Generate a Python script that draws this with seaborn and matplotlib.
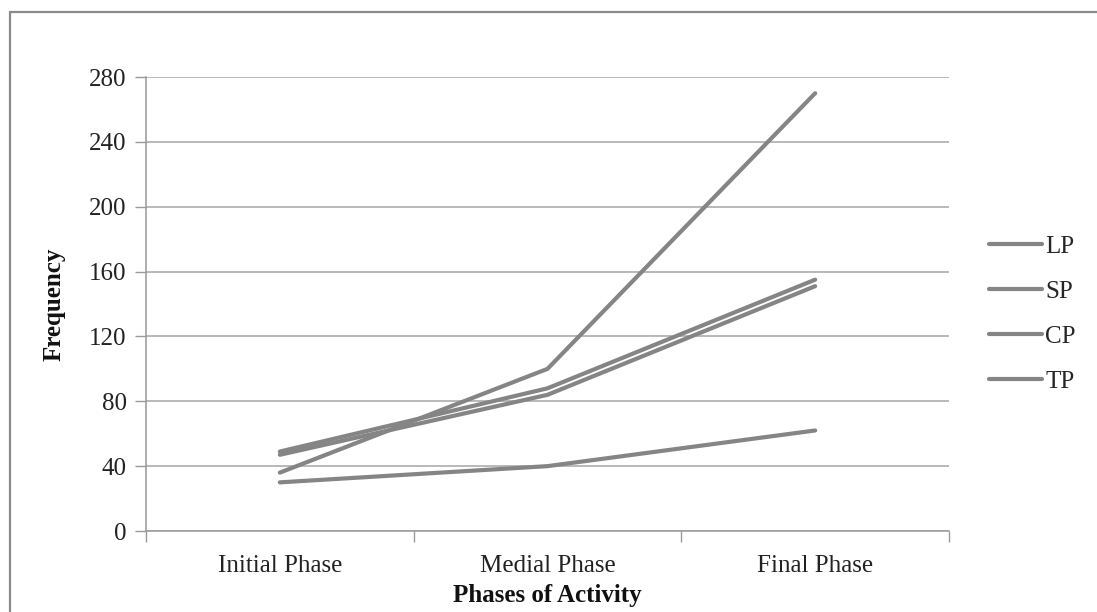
import matplotlib
matplotlib.use("Agg")
import matplotlib.pyplot as plt
import seaborn as sns
import pandas as pd
from matplotlib.lines import Line2D

phases = ["Initial Phase", "Medial Phase", "Final Phase"]
series = ["LP", "SP", "CP", "TP"]
lp = [36, 100, 270]
sp = [47, 84, 151]
cp = [49, 88, 155]
tp = [30, 40, 62]
yticks = [0, 40, 80, 120, 160, 200, 240, 280]

rows = []
for name, vals in zip(series, [lp, sp, cp, tp]):
    for i, (ph, v) in enumerate(zip(phases, vals)):
        rows.append({"pos": i, "phase": ph, "series": name, "value": v})
df = pd.DataFrame(rows)

sns.set_theme(style="white")
plt.rcParams["font.family"] = ["Liberation Serif", "DejaVu Serif"]

fig = plt.figure(figsize=(10.97, 6.12), dpi=100)
ax = fig.add_axes([146/1097, 1-531/612, (949-146)/1097, (531-77)/612])

line_col = "#858585"
sns.lineplot(data=df, x="pos", y="value", hue="series", hue_order=series,
             palette=[line_col]*4, linewidth=3.0, ax=ax, legend=False,
             solid_capstyle="round", estimator=None, sort=False)

ax.set_xlim(-0.5, 2.5)
ax.set_ylim(0, 280)
ax.set_yticks(yticks)
ax.set_yticklabels([str(t) for t in yticks], fontsize=18, color="#222222")
ax.set_xticks([-0.5, 0.5, 1.5, 2.5])
ax.set_xticklabels([])
ax.set_xticks([0, 1, 2], minor=True)
ax.set_xticklabels(phases, minor=True, fontsize=18, color="#222222")
ax.tick_params(axis="x", which="major", direction="out", length=8, width=1, color="#999999", bottom=True)
ax.tick_params(axis="x", which="minor", length=0, pad=17)
ax.tick_params(axis="y", direction="out", length=8, width=1, color="#999999", left=True, pad=6)

ax.yaxis.grid(True, color="#a6a6a6", linewidth=1.1)
ax.xaxis.grid(False)
ax.set_axisbelow(True)
for s in ["top", "right"]:
    ax.spines[s].set_visible(False)
for s in ["left", "bottom"]:
    ax.spines[s].set_color("#999999")
    ax.spines[s].set_linewidth(1.1)

ax.set_xlabel("Phases of Activity", fontsize=18, fontweight="bold", labelpad=5, color="#111111")
ax.set_ylabel("Frequency", fontsize=18, fontweight="bold", labelpad=17, color="#111111")

handles = [Line2D([0], [0], color=line_col, lw=3.0, solid_capstyle="round") for _ in series]
fig.legend(handles, series, loc="center left", bbox_to_anchor=(989/1097, 1-314.5/612),
           frameon=False, fontsize=18, handlelength=2.1, handletextpad=0.15,
           labelspacing=0.9, borderpad=0, borderaxespad=0)

# outer chart border
bc = "#8a8a8a"
fig.add_artist(Line2D([10/1097, 1.01], [1-12/612, 1-12/612], transform=fig.transFigure, color=bc, lw=1.6))
fig.add_artist(Line2D([10/1097, 10/1097], [1-12/612, -0.01], transform=fig.transFigure, color=bc, lw=1.6))

fig.savefig("out.png", dpi=100)
